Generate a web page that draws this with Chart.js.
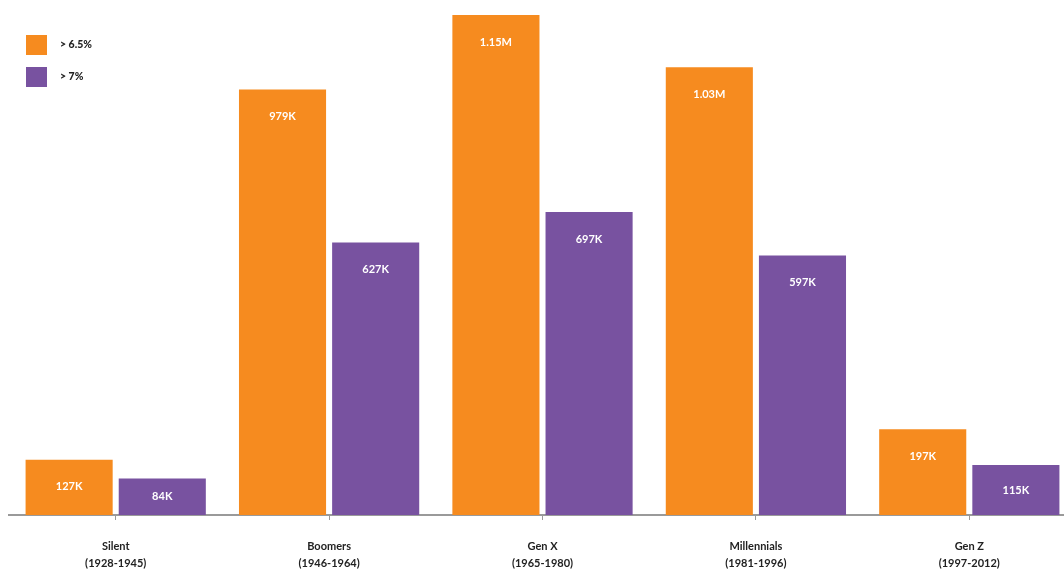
<!DOCTYPE html>
<html>
<head>
<meta charset="utf-8">
<script src="https://cdn.jsdelivr.net/npm/chart.js@4/dist/chart.umd.min.js"></script>
<style>
  html, body { margin: 0; padding: 0; background: #fff; overflow: hidden; }
  #wrap { position: relative; width: 1076px; height: 573px; }
</style>
</head>
<body>
<div id="wrap"><canvas id="barChart"></canvas></div>
<script>
// generations
const generations = ['Silent', 'Boomers', 'Gen X', 'Millennials', 'Gen Z'];
const years = ['(1928-1945)', '(1946-1964)', '(1965-1980)', '(1981-1996)', '(1997-2012)'];

// values in thousands
const over65 = [127, 979, 1150, 1030, 197];
const over7 = [84, 627, 697, 597, 115];

// printed labels
const over65Labels = ['127K', '979K', '1.15M', '1.03M', '197K'];
const over7Labels = ['84K', '627K', '697K', '597K', '115K'];

const seriesNames = ['> 6.5%', '> 7%'];
const orange = '#F68B1F';
const purple = '#7852A0';

// labels inside the bars
const barLabels = {
  id: 'barLabels',
  afterDatasetsDraw(chart) {
    const ctx = chart.ctx;
    const texts = [over65Labels, over7Labels];
    ctx.save();
    ctx.fillStyle = '#fff';
    ctx.font = 'bold 11px Lato';
    ctx.textAlign = 'center';
    ctx.textBaseline = 'middle';
    chart.data.datasets.forEach((ds, i) => {
      chart.getDatasetMeta(i).data.forEach((bar, j) => {
        const y = Math.min(bar.y + 27, (bar.y + bar.base) / 2);
        ctx.fillText(texts[i][j], bar.x, y);
      });
    });
    ctx.restore();
  }
};

// vertical legend top left
const sideLegend = {
  id: 'sideLegend',
  afterDraw(chart) {
    const ctx = chart.ctx;
    ctx.save();
    ctx.font = '900 10.5px Lato';
    ctx.textBaseline = 'middle';
    chart.data.datasets.forEach((ds, i) => {
      const y = 35 + i * 32;
      ctx.fillStyle = ds.backgroundColor;
      ctx.fillRect(26, y, 21, 20);
      ctx.fillStyle = '#222';
      ctx.fillText(ds.label, 60, y + 10);
    });
    ctx.restore();
  }
};

const ctx = document.getElementById('barChart').getContext('2d');
const myChart = new Chart(ctx, {
  type: 'bar',
  data: {
    labels: generations.map((g, i) => [g, years[i]]),
    datasets: [
      { label: seriesNames[0], data: over65, backgroundColor: orange },
      { label: seriesNames[1], data: over7, backgroundColor: purple }
    ]
  },
  options: {
    responsive: true,
    maintainAspectRatio: false,
    animation: false,
    layout: { padding: { left: 9, right: 0, top: 2, bottom: 0 } },
    datasets: {
      bar: { categoryPercentage: 0.873, barPercentage: 0.935 }
    },
    plugins: {
      legend: { display: false },
      tooltip: { enabled: false }
    },
    scales: {
      x: {
        afterFit(scale) { scale.height = 58; },
        border: { color: '#9a9a9a', width: 2 },
        grid: { offset: false, drawOnChartArea: false, tickLength: 5, color: '#9a9a9a', tickWidth: 1 },
        ticks: {
          color: '#222',
          padding: 18,
          font: { family: 'Lato', size: 11, weight: 'bold', lineHeight: 1.55 }
        }
      },
      y: {
        display: false,
        min: 0,
        max: 1180
      }
    }
  },
  plugins: [barLabels, sideLegend]
});
</script>
</body>
</html>
